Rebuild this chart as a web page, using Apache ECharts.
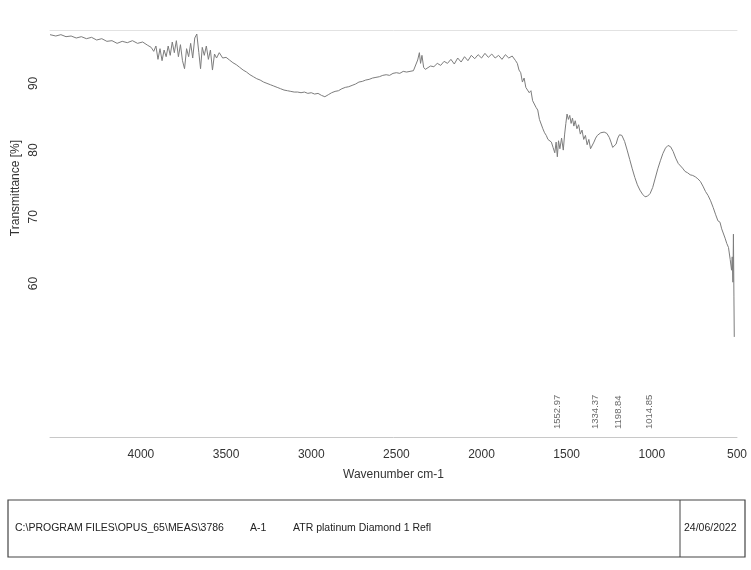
<!DOCTYPE html>
<html>
<head>
<meta charset="utf-8">
<script src="https://cdn.jsdelivr.net/npm/echarts@6/dist/echarts.min.js"></script>
<style>
  html, body { margin: 0; padding: 0; background: #fff; }
  #main { width: 751px; height: 570px; }
</style>
</head>
<body>
<div id="main"></div>
<script>
// spectrum: wavenumber (cm-1) and transmittance (%)
const wavenumbers = [
  4534, 4500, 4470, 4440, 4410, 4380, 4350, 4320, 4290, 4260, 4230, 4200, 4170, 4140, 4110, 4080, 4050, 4020, 3990, 3960,
  3940, 3925, 3912, 3900, 3888, 3876, 3864, 3852, 3840, 3828, 3816, 3804, 3792, 3780, 3768, 3756, 3744, 3732, 3720, 3708,
  3696, 3684, 3672, 3660, 3650, 3640, 3628, 3616, 3604, 3592, 3580, 3568, 3556, 3540, 3520, 3500, 3480, 3460, 3440, 3420,
  3400, 3380, 3360, 3340, 3320, 3300, 3280, 3260, 3240, 3220, 3200, 3180, 3160, 3140, 3120, 3100, 3080, 3060, 3040, 3020,
  3000, 2980, 2960, 2940, 2920, 2900, 2880, 2860, 2840, 2820, 2800, 2780, 2760, 2740, 2720, 2700, 2680, 2660, 2640, 2620,
  2600, 2580, 2560, 2540, 2520, 2500, 2480, 2460, 2440, 2420, 2400, 2390, 2375, 2365, 2358, 2350, 2340, 2330, 2320, 2300,
  2280, 2260, 2240, 2220, 2200, 2180, 2160, 2140, 2120, 2100, 2080, 2060, 2040, 2020, 2000, 1980, 1960, 1940, 1920, 1900,
  1880, 1860, 1840, 1820, 1800, 1790, 1780, 1770, 1760, 1750, 1740, 1730, 1720, 1710, 1700, 1690, 1680, 1670, 1660, 1650,
  1640, 1630, 1620, 1610, 1600, 1590, 1580, 1570, 1562, 1555, 1548, 1540, 1530, 1520, 1512, 1505, 1498, 1490, 1482, 1474,
  1466, 1458, 1450, 1440, 1430, 1420, 1410, 1400, 1390, 1380, 1370, 1360, 1350, 1340, 1330, 1320, 1300, 1280, 1264, 1250,
  1240, 1230, 1220, 1210, 1200, 1190, 1176, 1160, 1145, 1130, 1115, 1100, 1085, 1070, 1055, 1040, 1025, 1010, 995, 980,
  965, 950, 935, 920, 905, 890, 875, 860, 845, 835, 820, 805, 790, 775, 760, 745, 730, 715, 700, 685,
  670, 655, 640, 625, 612, 600, 590, 580, 570, 560, 550, 540, 532, 528, 524, 521, 518, 516
];
const transmittance = [
  97.3, 97.1, 97.3, 97.0, 97.1, 96.8, 97.0, 96.7, 96.9, 96.5, 96.7, 96.3, 96.4, 96.0, 96.3, 96.1, 96.4, 96.0, 96.2, 95.7,
  95.4, 94.8, 95.6, 93.6, 95.2, 93.4, 95.0, 94.0, 95.6, 94.2, 96.2, 94.6, 96.4, 94.0, 95.8, 93.4, 92.2, 95.2, 94.0, 96.0,
  93.8, 96.8, 97.4, 94.6, 92.2, 95.4, 94.2, 95.6, 93.6, 95.0, 92.0, 94.4, 93.8, 94.6, 93.8, 93.9, 93.5, 93.1, 92.8, 92.4,
  92.0, 91.7, 91.3, 91.0, 90.7, 90.5, 90.2, 90.0, 89.8, 89.6, 89.4, 89.2, 89.0, 88.9, 88.8, 88.7, 88.7, 88.6, 88.7, 88.5,
  88.6, 88.4, 88.5, 88.2, 88.0, 88.3, 88.6, 88.8, 88.9, 89.2, 89.4, 89.5, 89.7, 89.9, 90.2, 90.3, 90.5, 90.6, 90.8, 90.9,
  91.0, 91.2, 91.3, 91.2, 91.5, 91.6, 91.5, 91.8, 91.7, 91.8, 91.9, 92.0, 93.5, 94.6, 93.0, 94.2, 92.4, 92.1, 92.3, 92.6,
  92.5, 93.0, 92.7, 93.3, 93.0, 93.6, 92.9, 93.8, 93.2, 94.0, 93.4, 94.2, 93.7, 94.3, 93.8, 94.5, 93.9, 94.4, 93.8, 94.2,
  93.6, 94.3, 93.8, 94.1, 93.4, 93.0, 92.0, 91.6, 90.2, 90.8, 89.4, 89.0, 88.6, 88.9, 87.4, 87.6, 86.4, 86.0, 84.6, 84.8,
  83.2, 82.6, 82.2, 81.6, 81.4, 81.2, 80.4, 79.6, 81.2, 79.0, 81.4, 80.2, 81.8, 80.0, 82.4, 84.0, 85.4, 84.6, 85.2, 84.0,
  84.8, 83.6, 84.4, 83.2, 83.8, 82.4, 83.0, 81.6, 82.2, 80.8, 81.6, 80.2, 80.0, 81.2, 81.8, 82.2, 82.6, 82.7, 82.5, 81.9,
  81.2, 80.4, 80.2, 80.9, 81.8, 82.3, 82.2, 81.3, 80.0, 78.6, 77.2, 75.9, 74.8, 74.0, 73.4, 73.0, 73.1, 73.5, 74.4, 75.8,
  77.2, 78.4, 79.5, 80.3, 80.7, 80.5, 79.8, 78.8, 78.0, 77.8, 77.3, 76.8, 76.6, 76.3, 76.2, 76.0, 75.7, 75.3, 74.6, 73.8,
  73.2, 72.4, 71.4, 70.3, 69.4, 69.2, 68.2, 68.0, 66.8, 66.0, 65.4, 63.6, 62.0, 64.0, 60.2, 67.4, 58.0, 52.0
];
const peakLabels = [1552.97, 1334.37, 1198.84, 1014.85];
const xTicks = [500, 1000, 1500, 2000, 2500, 3000, 3500, 4000];
const yTicks = [60, 70, 80, 90];

const chart = echarts.init(document.getElementById('main'), null, { renderer: 'canvas' });

const option = {
  backgroundColor: '#ffffff',
  animation: false,
  grid: { left: 50, right: 14, top: 30, bottom: 133 },
  xAxis: [
    {
      type: 'value',
      inverse: true,
      min: 500,
      max: 4534,
      name: 'Wavenumber cm-1',
      nameLocation: 'middle',
      nameGap: 32,
      nameTextStyle: { fontFamily: 'Liberation Sans', fontSize: 12, color: '#333' },
      axisLine: { show: true, lineStyle: { color: '#c8c8c8', width: 1 } },
      axisTick: { show: false },
      splitLine: { show: false },
      axisLabel: {
        customValues: xTicks,
        formatter: v => String(v),
        margin: 12,
        fontFamily: 'Liberation Sans',
        fontSize: 12,
        color: '#333'
      }
    },
    {
      type: 'value',
      position: 'top',
      inverse: true,
      min: 500,
      max: 4534,
      axisLine: { show: true, lineStyle: { color: '#e2e2e2', width: 1 } },
      axisTick: { show: false },
      axisLabel: { show: false },
      splitLine: { show: false }
    }
  ],
  yAxis: {
    type: 'value',
    min: 37,
    max: 98,
    axisLine: { show: false },
    axisTick: { show: false },
    splitLine: { show: false },
    axisLabel: {
      customValues: yTicks,
      rotate: 90,
      margin: 10,
      fontFamily: 'Liberation Sans',
      fontSize: 12,
      color: '#333'
    }
  },
  graphic: [
    {
      type: 'text',
      x: 16,
      y: 188,
      rotation: Math.PI / 2,
      style: {
        text: 'Transmittance [%]',
        font: '12px "Liberation Sans"',
        fill: '#333',
        align: 'center',
        verticalAlign: 'middle'
      }
    },
    {
      type: 'rect',
      shape: { x: 8, y: 500, width: 737, height: 57 },
      style: { fill: 'none', stroke: '#444', lineWidth: 1.2 }
    },
    {
      type: 'line',
      shape: { x1: 680, y1: 500, x2: 680, y2: 557 },
      style: { stroke: '#444', lineWidth: 1 }
    },
    {
      type: 'text', x: 15, y: 528,
      style: { text: 'C:\\PROGRAM FILES\\OPUS_65\\MEAS\\3786', font: '10.5px "Liberation Sans"', fill: '#222', verticalAlign: 'middle' }
    },
    {
      type: 'text', x: 250, y: 528,
      style: { text: 'A-1', font: '10.5px "Liberation Sans"', fill: '#222', verticalAlign: 'middle' }
    },
    {
      type: 'text', x: 293, y: 528,
      style: { text: 'ATR platinum Diamond 1 Refl', font: '10.5px "Liberation Sans"', fill: '#222', verticalAlign: 'middle' }
    },
    {
      type: 'text', x: 684, y: 528,
      style: { text: '24/06/2022', font: '10.5px "Liberation Sans"', fill: '#222', verticalAlign: 'middle' }
    }
  ],
  series: [
    {
      type: 'line',
      data: wavenumbers.map((w, i) => [w, transmittance[i]]),
      showSymbol: false,
      smooth: false,
      lineStyle: { color: '#7d7d7d', width: 1 },
      silent: true
    },
    {
      type: 'scatter',
      data: peakLabels.map(w => [w, 38.2]),
      symbolSize: 0,
      silent: true,
      label: {
        show: true,
        position: 'inside',
        rotate: 90,
        align: 'left',
        verticalAlign: 'middle',
        formatter: p => p.value[0].toFixed(2),
        fontFamily: 'Liberation Sans',
        fontSize: 9.5,
        color: '#444'
      }
    }
  ]
};

chart.setOption(option);
</script>
</body>
</html>
